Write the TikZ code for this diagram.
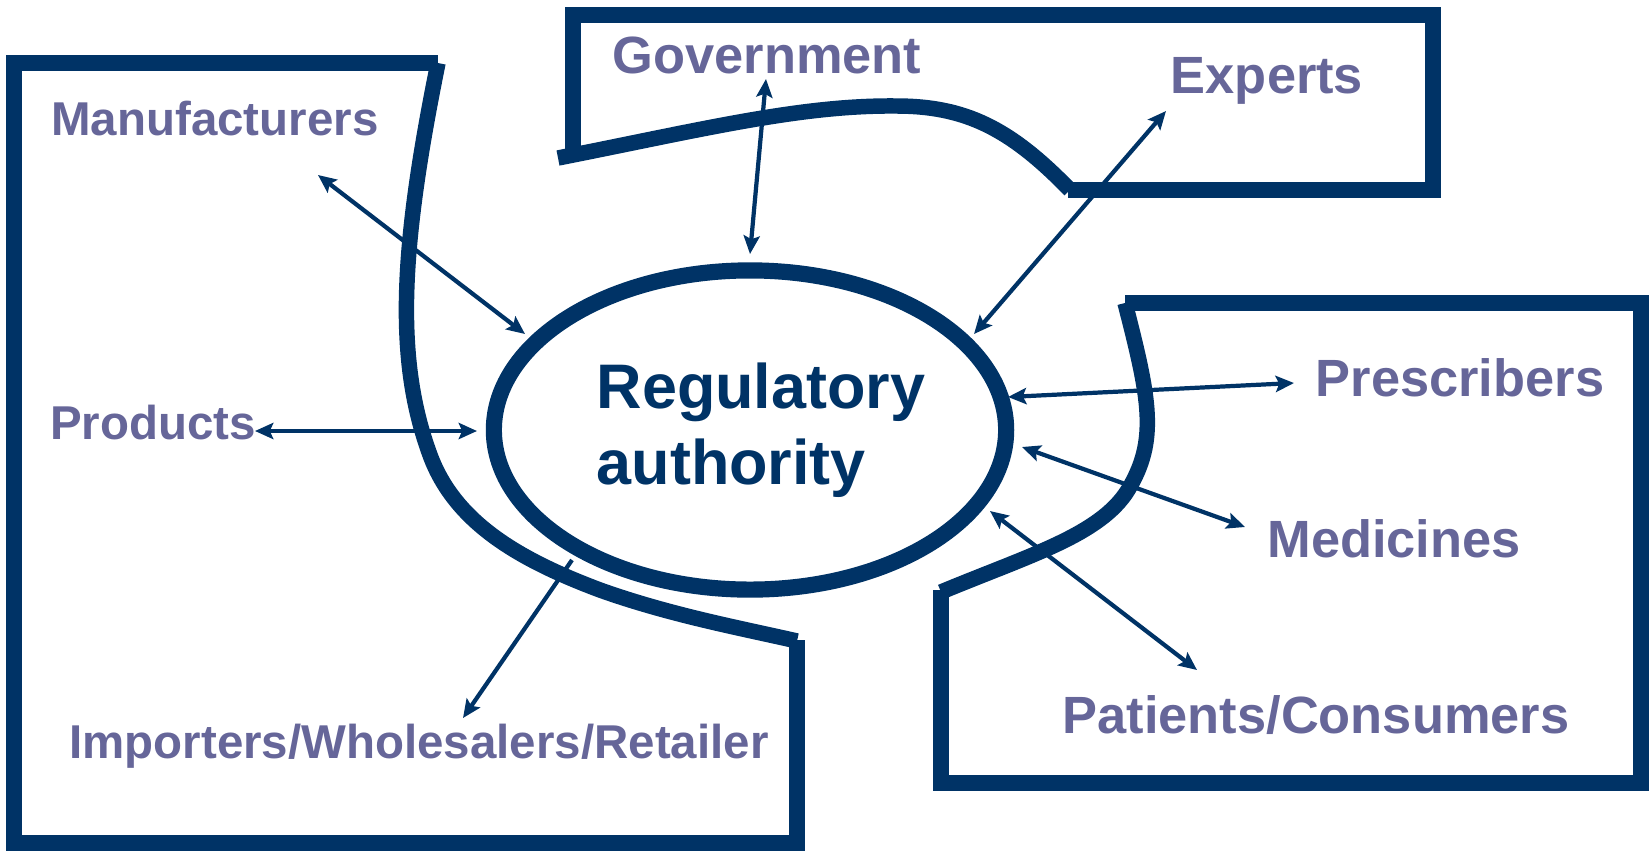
\documentclass[tikz,border=0pt]{standalone}
\usepackage{fontspec}
\setmainfont{Liberation Sans}
\usetikzlibrary{shapes.geometric,arrows.meta}
\definecolor{navy}{HTML}{003366}
\definecolor{labc}{HTML}{666699}
\begin{document}
\begin{tikzpicture}[x=0.01cm,y=-0.01cm,
  frame/.style={draw=navy,line width=4.4pt,line join=miter},
  lab/.style={text=labc,font=\bfseries\fontsize{13.5pt}{16pt}\selectfont,anchor=base,inner sep=0pt},
  labr/.style={text=labc,font=\bfseries\fontsize{14.9pt}{18pt}\selectfont,anchor=base,inner sep=0pt},
  link/.style={draw=navy,line width=1.2pt,>={Stealth[length=5.2pt,width=4.6pt,inset=1pt]}},
  ]
\useasboundingbox (0,0) rectangle (1652,851);

% left frame
\draw[frame] (438,63) -- (14,63) -- (14,843) -- (797,843) -- (797,640);
\draw[frame] (438,63) .. controls (400,250) and (395,360) .. (430,455)
  .. controls (455,523) and (520,560) .. (600,590)
  .. controls (670,615) and (740,628) .. (797,641);

% top frame
\draw[frame] (573,150) -- (573,15) -- (1433,15) -- (1433,190) -- (1068,190);
\draw[frame] (558,158) .. controls (700,130) and (800,105) .. (896,106) .. controls (965,106) and (1010,128) .. (1070,190);

% right frame
\draw[frame] (1125,303) -- (1641,303) -- (1641,783) -- (941,783) -- (941,590);
\draw[frame] (1125,303) .. controls (1150,400) and (1158,440) .. (1128,490)
  .. controls (1100,535) and (1030,555) .. (941,592);

% central ellipse
\node[ellipse,draw=navy,line width=4.6pt,minimum width=5.12cm,minimum height=3.19cm,inner sep=0pt] (reg) at (750,430) {};
\node[align=left,text=navy,inner sep=0pt,font=\bfseries\fontsize{17.9pt}{21.6pt}\selectfont] (regtxt) at (761,430) {Regulatory\\authority};

% labels
\node[lab] (man) at (215,135) {Manufacturers};
\node[lab] (prod) at (153,439) {Products};
\node[lab] (imp) at (419,758) {Importers/Wholesalers/Retailer};
\node[labr] (gov) at (767,73) {Government};
\node[labr] (exp) at (1267,93) {Experts};
\node[labr] (pres) at (1460,396) {Prescribers};
\node[labr] (med) at (1394,557) {Medicines};
\node[labr] (pat) at (1316,733) {Patients/Consumers};

% arrow end points
\coordinate (manA) at (318,175);  \coordinate (manB) at (525,334);
\coordinate (govA) at (766,79);   \coordinate (govB) at (750,254);
\coordinate (expA) at (1166,111); \coordinate (expB) at (974,334);
\coordinate (preA) at (1294,383); \coordinate (preB) at (1008,397);
\coordinate (medA) at (1245,527); \coordinate (medB) at (1022,447);
\coordinate (patA) at (1197,670); \coordinate (patB) at (990,511);
\coordinate (proA) at (255,431);  \coordinate (proB) at (477,431);
\coordinate (impA) at (463,718);  \coordinate (impB) at (572,560);

\draw[link,<->] (manA) -- (manB);
\draw[link,<->] (govA) -- (govB);
\draw[link,<->] (expA) -- (expB);
\draw[link,<->] (preA) -- (preB);
\draw[link,<->] (medA) -- (medB);
\draw[link,<->] (patA) -- (patB);
\draw[link,<->] (proA) -- (proB);
\draw[link,->] (impB) -- (impA);
\end{tikzpicture}
\end{document}
